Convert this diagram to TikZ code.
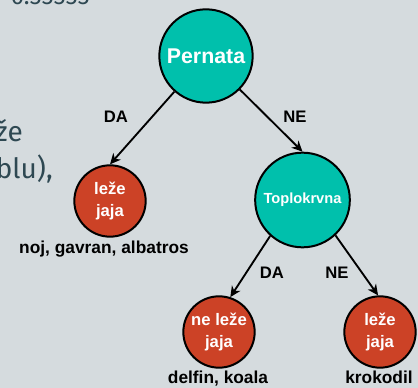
\documentclass[tikz,border=0pt]{standalone}
\usepackage{fontspec}
\setmainfont{Liberation Sans}
\newfontfamily\slidefont{Fira Sans}
\usetikzlibrary{arrows.meta}
\usetikzlibrary{backgrounds}
\definecolor{slidebg}{HTML}{D5DBDE}
\definecolor{slideink}{HTML}{2E4852}
\definecolor{attrcl}{HTML}{00C0AC}
\definecolor{leafcl}{HTML}{CC4226}
\newcommand{\attrd}{70pt}
\newcommand{\leafd}{53.5pt}
\newcommand{\edgew}{1.4pt}

\tikzset{
  attr/.style={circle, draw=black, line width=1.5pt, fill=attrcl, text=white,
    minimum size=\attrd, inner sep=0pt, align=center},
  leaf/.style={circle, draw=black, line width=1.5pt, fill=leafcl, text=white,
    minimum size=\leafd, inner sep=0pt, align=center,
    font=\bfseries\fontsize{12.5}{16.5}\selectfont},
  branch/.style={-{Stealth[length=8pt,width=7.5pt,inset=2.5pt]}, line width=\edgew},
  answer/.style={font=\bfseries\fontsize{12.5}{14}\selectfont, inner sep=0pt},
  group/.style={font=\bfseries\fontsize{13}{15}\selectfont, inner sep=0pt, anchor=base},
  slidetxt/.style={text=slideink, inner sep=0pt, anchor=base east,
    font=\slidefont\fontsize{21}{24}\selectfont}
}

\begin{document}
\begin{tikzpicture}[x=0.75pt, y=-0.75pt]

    % slide background
    \fill [slidebg] (0,0) rectangle (418,388);
    \useasboundingbox (0,0) rectangle (418,388);
    \clip (0,0) rectangle (418,388);

    % cut slide text on the left
    \node [slidetxt, font=\slidefont\fontsize{18}{20}\selectfont] (val) at (90,5) {0.33333};
    \node [slidetxt] (lineA) at (23,142) {že};
    \node [slidetxt] (lineB) at (53,179) {(blu),};

    % tree
    \node [attr, font=\bfseries\fontsize{16}{18}\selectfont] (pernata) at (206,56) {Pernata};
    \node [leaf] (lezeL) at (110,201) {leže\\jaja};
    \node [attr, minimum size=71pt, font=\bfseries\fontsize{11}{13}\selectfont] (topl) at (302.5,200) {Toplokrvna};
    \node [leaf] (nelezeC) at (219,332) {ne leže\\jaja};
    \node [leaf] (lezeR) at (380,332) {leže\\jaja};

    \draw [branch] (pernata) -- (lezeL.north);
    \draw [branch] (pernata) -- (topl.north);
    \draw [branch] (topl.228) -- (nelezeC.72);
    \draw [branch] (topl.-47) -- (lezeR.93);

    \node [answer] (daA) at (116,117) {DA};
    \node [answer] (neA) at (295,117) {NE};
    \node [answer] (daB) at (272,273) {DA};
    \node [answer] (neB) at (337,273) {NE};

    \node [group] (grpL) at (104,254) {noj, gavran, albatros};
    \node [group] (grpC) at (218,384) {delfin, koala};
    \node [group] (grpR) at (379,384) {krokodil};

  \end{tikzpicture}
\end{document}
